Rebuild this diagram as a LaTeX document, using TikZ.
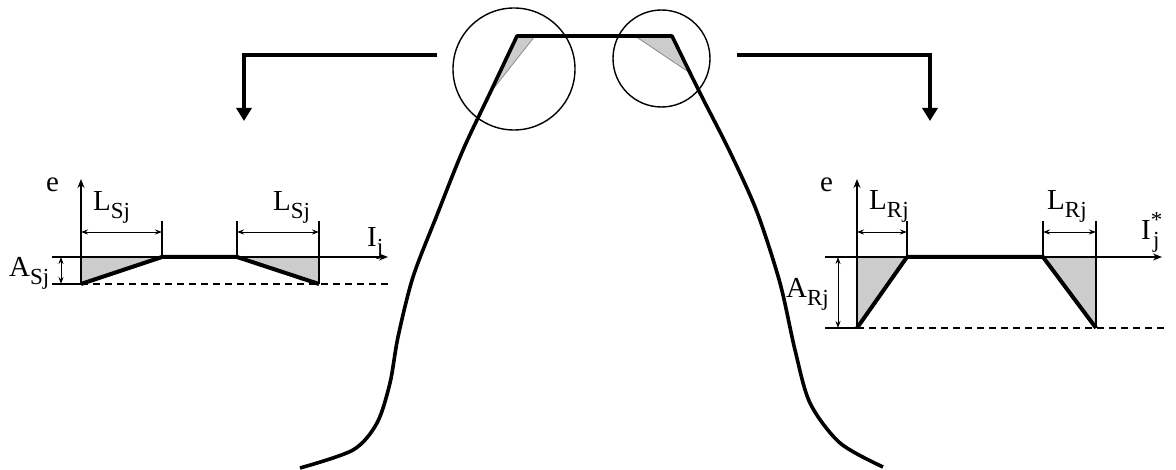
\documentclass[tikz,border=0pt]{standalone}
\usepackage{fontspec}
\setmainfont{Liberation Serif}
\usetikzlibrary{arrows.meta}
\newcommand\mysb[1]{\raisebox{-0.25em}{\fontsize{23}{24}\selectfont #1}}
\newcommand\mysp[1]{\raisebox{0.42em}{\fontsize{23}{24}\selectfont #1}}
\tikzset{
  prof/.style={line width=3.6pt, line join=round},
  bigarr/.style={line width=4pt, -{Triangle[length=13pt,width=15pt]}},
  thinln/.style={line width=1.1pt},
  axarr/.style={line width=1.1pt, -{Stealth[length=9pt,width=7pt]}},
  dimarr/.style={line width=0.9pt, {Stealth[length=7pt,width=5pt]}-{Stealth[length=7pt,width=5pt]}},
  dashln/.style={line width=1.1pt, dash pattern=on 7pt off 5pt},
  fillg/.style={fill=black!20},
  lbl/.style={inner sep=0pt, font=\fontsize{29}{31}\selectfont, anchor=base west},
}
\begin{document}
\begin{tikzpicture}[x=1pt,y=-1pt]
\useasboundingbox (0,0) rectangle (1176,470);
% ---------- tooth ----------
\fill[fillg] (517,36) -- (535,36) -- (490,93) -- cycle;
\draw[line width=0.8pt, black!45] (535,36) -- (490,93);
\fill[fillg] (672,36) -- (635,36) -- (690,73) -- cycle;
\draw[line width=0.8pt, black!45] (635,36) -- (690,73);
\draw[prof] plot[smooth, tension=0.5] coordinates {(300,468) (353,450) (377,423) (390,383) (398,337) (413,277) (437,215) (463,150) (490,93) (517,36)}
  -- (672,36)
  -- plot[smooth, tension=0.5] coordinates {(672,36) (700,93) (730,152) (757,212) (780,283) (795,350) (810,403) (840,443) (883,467)};
\draw[line width=1.4pt] (514,69) circle[radius=61];
\draw[line width=1.4pt] (661.5,58.5) circle[radius=48.5];
% ---------- big arrows ----------
\coordinate (la0) at (437,55);
\coordinate (la1) at (244,55);
\coordinate (la2) at (244,121);
\draw[bigarr] (la0) -- (la1) -- (la2);
\coordinate (ra0) at (737,55);
\coordinate (ra1) at (930,55);
\coordinate (ra2) at (930,121);
\draw[bigarr] (ra0) -- (ra1) -- (ra2);
% ---------- left chart ----------
\coordinate (O1) at (81,257);
\coordinate (B1) at (81,284);
\coordinate (P1) at (162,257);
\coordinate (P2) at (237,257);
\coordinate (P3) at (319,284);
\fill[fillg] (O1) -- (P1) -- (B1) -- cycle;
\fill[fillg] (P2) -- (319,257) -- (P3) -- cycle;
\draw[axarr] (52,257) -- (388,257);
\draw[axarr] (B1) -- (81,179);
\draw[thinln] (52,284) -- (B1);
\draw[dashln] (B1) -- (388,284);
\draw[thinln] (162,221) -- (P1);
\draw[thinln] (237,221) -- (P2);
\draw[thinln] (319,221) -- (P3);
\draw[dimarr] (81,232) -- (162,232);
\draw[dimarr] (237,232) -- (319,232);
\draw[dimarr] (61,257) -- (61,284);
\draw[line width=4pt, line join=round] (B1) -- (P1) -- (P2) -- (P3);
\node[lbl] (e1) at (46,192) {e};
\node[lbl] (ls1) at (93,211) {L\mysb{Sj}};
\node[lbl] (ls2) at (273,211) {L\mysb{Sj}};
\node[lbl] (ij1) at (367,247) {I\mysb{j}};
\node[lbl] (as1) at (9,277) {A\mysb{Sj}};
% ---------- right chart ----------
\coordinate (O2) at (857,257);
\coordinate (B2) at (857,328);
\coordinate (Q1) at (907,257);
\coordinate (Q2) at (1043,257);
\coordinate (Q3) at (1096,328);
\fill[fillg] (O2) -- (Q1) -- (B2) -- cycle;
\fill[fillg] (Q2) -- (1096,257) -- (Q3) -- cycle;
\draw[axarr] (825,257) -- (1162,257);
\draw[axarr] (B2) -- (857,179);
\draw[thinln] (825,328) -- (B2);
\draw[dashln] (B2) -- (1164,328);
\draw[thinln] (907,221) -- (Q1);
\draw[thinln] (1043,221) -- (Q2);
\draw[thinln] (1096,221) -- (Q3);
\draw[dimarr] (857,232) -- (907,232);
\draw[dimarr] (1043,232) -- (1096,232);
\draw[dimarr] (838,257) -- (838,328);
\draw[line width=4pt, line join=round] (B2) -- (Q1) -- (Q2) -- (Q3);
\node[lbl] (e2) at (820,192) {e};
\node[lbl] (lr1) at (869,210) {L\mysb{Rj}};
\node[lbl] (lr2) at (1047,210) {L\mysb{Rj}};
\node[lbl] (ij2) at (1141,240) {I\rlap{\mysp{*}}\hspace{0.08em}\mysb{j}};
\node[lbl] (ar1) at (786,298) {A\mysb{Rj}};
\end{tikzpicture}
\end{document}
